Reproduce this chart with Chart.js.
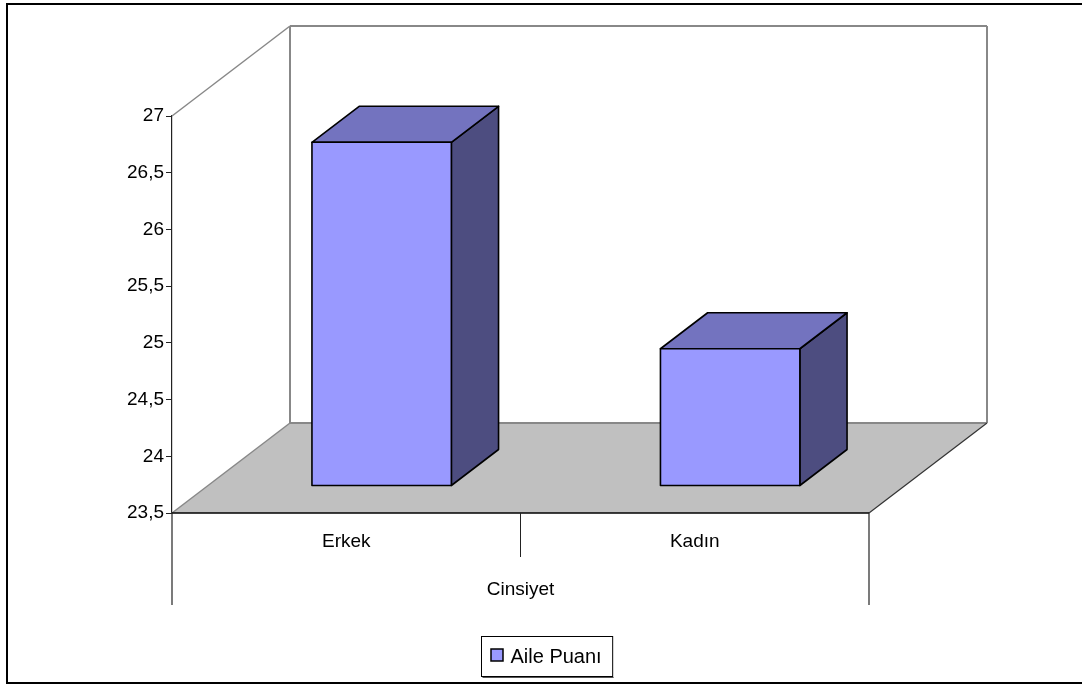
<!DOCTYPE html>
<html>
<head>
<meta charset="utf-8">
<title>Aile Puanı – Cinsiyet</title>
<script src="https://cdn.jsdelivr.net/npm/chart.js@4/dist/chart.umd.min.js"></script>
<style>
  html, body { margin: 0; padding: 0; background: #fff; }
  #wrap { width: 1082px; height: 685px; position: relative; }
</style>
</head>
<body>
<div id="wrap"><canvas id="c"></canvas></div>
<script>
// Data
const categories = ['Erkek', 'Kadın'];
const ailePuani = [26.53, 24.71];
const seriesName = 'Aile Puanı';
const axisTitle = 'Cinsiyet';
const yMin = 23.5, yMax = 27, yStep = 0.5;

// Styling
const FONT = '"Liberation Sans", Arial, sans-serif';
const FONT_SIZE = 19;
const LEGEND_FONT_SIZE = 20;
const FRONT = '#9999FF', TOP = '#7373BF', SIDE = '#4D4D80';
const FLOOR = '#C0C0C0', WALL_EDGE = '#888888';
const DEPTH = { x: 118, y: -90 };      // projection of the full box depth
const BAR_FRONT = 0.3, BAR_BACK = 0.7; // bar position within the depth

function poly(ctx, pts, fill, stroke, lw) {
  ctx.beginPath();
  ctx.moveTo(pts[0][0], pts[0][1]);
  for (let i = 1; i < pts.length; i++) ctx.lineTo(pts[i][0], pts[i][1]);
  ctx.closePath();
  if (fill) { ctx.fillStyle = fill; ctx.fill(); }
  if (stroke) { ctx.strokeStyle = stroke; ctx.lineWidth = lw || 1; ctx.stroke(); }
}
function line(ctx, x1, y1, x2, y2, color, lw) {
  ctx.beginPath();
  ctx.moveTo(x1, y1); ctx.lineTo(x2, y2);
  ctx.strokeStyle = color; ctx.lineWidth = lw || 1; ctx.stroke();
}

// Walls, floor and 3D columns
const box3d = {
  id: 'box3d',
  beforeDatasetsDraw(chart) {
    const ctx = chart.ctx;
    const a = chart.chartArea;
    const dx = DEPTH.x, dy = DEPTH.y;
    ctx.save();
    ctx.lineJoin = 'miter';

    // back wall
    poly(ctx, [[a.left + dx, a.top + dy], [a.right + dx, a.top + dy],
               [a.right + dx, a.bottom + dy], [a.left + dx, a.bottom + dy]], '#fff', null);
    line(ctx, a.left + dx, a.bottom + dy, a.left + dx, a.top + dy, WALL_EDGE, 2);
    line(ctx, a.left + dx, a.top + dy, a.right + dx, a.top + dy, WALL_EDGE, 2);
    line(ctx, a.right + dx, a.top + dy, a.right + dx, a.bottom + dy, WALL_EDGE, 2);
    // side wall top edge
    line(ctx, a.left, a.top, a.left + dx, a.top + dy, WALL_EDGE, 1.5);

    // floor
    poly(ctx, [[a.left, a.bottom], [a.right, a.bottom],
               [a.right + dx, a.bottom + dy], [a.left + dx, a.bottom + dy]], FLOOR, null);
    line(ctx, a.left, a.bottom, a.left + dx, a.bottom + dy, WALL_EDGE, 1.5);
    line(ctx, a.left + dx, a.bottom + dy, a.right + dx, a.bottom + dy, WALL_EDGE, 2);
    line(ctx, a.right, a.bottom, a.right + dx, a.bottom + dy, '#333', 1.2);
    line(ctx, a.left, a.bottom, a.right, a.bottom, '#000', 1.5);

    // columns
    const meta = chart.getDatasetMeta(0);
    const ox = dx * BAR_FRONT, oy = dy * BAR_FRONT;
    const tx = dx * (BAR_BACK - BAR_FRONT), ty = dy * (BAR_BACK - BAR_FRONT);
    meta.data.forEach(el => {
      const p = el.getProps(['x', 'y', 'base', 'width'], true);
      const L = p.x - p.width / 2 + ox, R = p.x + p.width / 2 + ox;
      const T = p.y + oy, B = p.base + oy;
      ctx.lineJoin = 'round';
      poly(ctx, [[R, T], [R + tx, T + ty], [R + tx, B + ty], [R, B]], SIDE, '#000', 1.6);
      poly(ctx, [[L, T], [R, T], [R + tx, T + ty], [L + tx, T + ty]], TOP, '#000', 1.6);
      poly(ctx, [[L, T], [R, T], [R, B], [L, B]], FRONT, '#000', 1.6);
    });
    ctx.restore();
    return false;
  },
  afterDraw(chart) {
    const ctx = chart.ctx;
    const a = chart.chartArea;
    const xs = chart.scales.x;
    ctx.save();

    // category axis frame
    line(ctx, a.left, a.bottom, a.left, 605, '#222', 1.2);
    line(ctx, a.right, a.bottom, a.right, 605, '#222', 1.2);
    for (let i = 1; i < categories.length; i++) {
      const xb = (xs.getPixelForValue(i - 1) + xs.getPixelForValue(i)) / 2;
      line(ctx, xb, a.bottom, xb, 557, '#222', 1);
    }

    ctx.fillStyle = '#000';
    ctx.font = FONT_SIZE + 'px ' + FONT;
    ctx.textAlign = 'center';
    ctx.textBaseline = 'middle';
    categories.forEach((c, i) => ctx.fillText(c, xs.getPixelForValue(i), 542));
    ctx.fillText(axisTitle, (a.left + a.right) / 2, 590);

    // legend
    const ds = chart.data.datasets[0];
    ctx.font = LEGEND_FONT_SIZE + 'px ' + FONT;
    const tw = ctx.measureText(ds.label).width;
    const boxW = 29 + tw + 11, boxH = 40;
    const lx = 481.5, ly = 636.5;
    ctx.strokeStyle = '#000'; ctx.lineWidth = 1;
    ctx.strokeRect(lx, ly, boxW, boxH);
    line(ctx, lx + 1, ly + boxH + 1, lx + boxW + 1, ly + boxH + 1, '#555', 1);
    ctx.fillStyle = ds.backgroundColor;
    ctx.fillRect(lx + 9.5, ly + 12.5, 12, 12);
    ctx.strokeStyle = '#000'; ctx.lineWidth = 1.5;
    ctx.strokeRect(lx + 9.5, ly + 12.5, 12, 12);
    ctx.fillStyle = '#000';
    ctx.textAlign = 'left';
    ctx.fillText(ds.label, lx + 29, ly + boxH / 2 + 1);

    // outer frame
    ctx.strokeStyle = '#000'; ctx.lineWidth = 2;
    ctx.strokeRect(7, 4, 1090, 679);
    ctx.restore();
  }
};

new Chart(document.getElementById('c'), {
  type: 'bar',
  data: {
    labels: categories,
    datasets: [{
      label: seriesName,
      data: ailePuani,
      base: yMin,
      backgroundColor: FRONT,
      barPercentage: 0.4,
      categoryPercentage: 1.0
    }]
  },
  options: {
    responsive: true,
    maintainAspectRatio: false,
    animation: false,
    events: [],
    layout: { padding: { left: 0, right: 213, top: 116, bottom: 172 } },
    plugins: { legend: { display: false }, tooltip: { enabled: false } },
    scales: {
      x: { display: false },
      y: {
        z: 1,
        min: yMin, max: yMax,
        afterFit(s) { s.width = 172; },
        ticks: {
          stepSize: yStep,
          color: '#000',
          padding: 2,
          font: { family: FONT, size: FONT_SIZE },
          callback: v => String(v).replace('.', ',')
        },
        grid: { drawOnChartArea: false, drawTicks: true, tickLength: 6, color: '#222', lineWidth: 1 },
        border: { display: true, color: '#222', width: 1.2 }
      }
    }
  },
  plugins: [box3d]
});
</script>
</body>
</html>
